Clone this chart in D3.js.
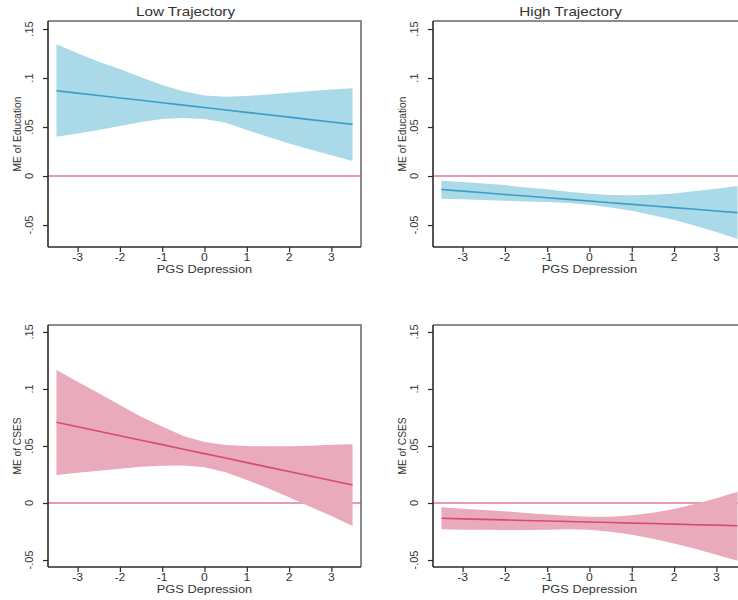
<!DOCTYPE html>
<html>
<head>
<meta charset="utf-8">
<script src="https://cdn.jsdelivr.net/npm/d3@7"></script>
<style>
  html, body { margin: 0; padding: 0; background: #fff; }
  svg { display: block; }
  text { font-family: "Liberation Sans", Arial, sans-serif; fill: #333; }
</style>
</head>
<body>
<svg id="chart" width="738" height="600"></svg>
<script>
// PGS depression values at which marginal effects are evaluated
const pgs = [-3.5, -3, -2.5, -2, -1.5, -1, -0.5, 0, 0.5, 1, 1.5, 2, 2.5, 3, 3.5];

// Marginal effect of education, low trajectory
const lowEduEst = [0.0871, 0.0846, 0.0822, 0.0797, 0.0773, 0.0748, 0.0724, 0.0699, 0.0674, 0.0650, 0.0625, 0.0601, 0.0576, 0.0551, 0.0527];
const lowEduLo  = [0.0401, 0.0435, 0.0469, 0.0510, 0.0551, 0.0582, 0.0592, 0.0582, 0.0544, 0.0469, 0.0401, 0.0333, 0.0272, 0.0211, 0.0153];
const lowEduHi  = [0.1344, 0.1252, 0.1167, 0.1092, 0.1007, 0.0929, 0.0864, 0.0823, 0.0810, 0.0816, 0.0833, 0.0850, 0.0867, 0.0884, 0.0895];

// Marginal effect of education, high trajectory
const highEduEst = [-0.0137, -0.0154, -0.0171, -0.0188, -0.0204, -0.0221, -0.0238, -0.0255, -0.0272, -0.0289, -0.0306, -0.0322, -0.0339, -0.0356, -0.0373];
const highEduLo  = [-0.0231, -0.0238, -0.0245, -0.0252, -0.0259, -0.0265, -0.0276, -0.0293, -0.0320, -0.0354, -0.0401, -0.0449, -0.0507, -0.0571, -0.0643];
const highEduHi  = [-0.0048, -0.0061, -0.0075, -0.0092, -0.0116, -0.0136, -0.0160, -0.0180, -0.0194, -0.0197, -0.0190, -0.0177, -0.0153, -0.0129, -0.0102];

// Marginal effect of CSES, low trajectory
const lowCsesEst = [0.0708, 0.0669, 0.0629, 0.0590, 0.0551, 0.0512, 0.0472, 0.0433, 0.0394, 0.0354, 0.0315, 0.0276, 0.0237, 0.0197, 0.0158];
const lowCsesLo  = [0.0246, 0.0266, 0.0284, 0.0301, 0.0319, 0.0327, 0.0330, 0.0313, 0.0269, 0.0202, 0.0129, 0.0050, -0.0032, -0.0114, -0.0202];
const lowCsesHi  = [0.1167, 0.1064, 0.0962, 0.0860, 0.0757, 0.0670, 0.0588, 0.0535, 0.0509, 0.0500, 0.0497, 0.0497, 0.0503, 0.0512, 0.0515];

// Marginal effect of CSES, high trajectory
const highCsesEst = [-0.0134, -0.0139, -0.0143, -0.0148, -0.0153, -0.0157, -0.0162, -0.0167, -0.0171, -0.0176, -0.0180, -0.0185, -0.0190, -0.0194, -0.0199];
const highCsesLo  = [-0.0231, -0.0234, -0.0234, -0.0237, -0.0237, -0.0234, -0.0231, -0.0234, -0.0251, -0.0278, -0.0313, -0.0354, -0.0401, -0.0453, -0.0506];
const highCsesHi  = [-0.0038, -0.0050, -0.0061, -0.0073, -0.0088, -0.0100, -0.0111, -0.0120, -0.0120, -0.0108, -0.0085, -0.0053, -0.0009, 0.0041, 0.0099];

// Axis ticks and labels
const xTicks = [-3, -2, -1, 0, 1, 2, 3];
const yTicks = [-0.05, 0, 0.05, 0.1, 0.15];
const yTickLabels = ["-.05", "0", ".05", ".1", ".15"];
const colTitles = ["Low Trajectory", "High Trajectory"];
const rowYTitles = ["ME of Education", "ME of CSES"];
const xTitle = "PGS Depression";

const blue = { fill: "#aad9e8", line: "#3a9dc7" };
const pink = { fill: "#e9aabb", line: "#d84a73" };

const panels = [
  { row: 0, col: 0, est: lowEduEst,  lo: lowEduLo,  hi: lowEduHi,  color: blue },
  { row: 0, col: 1, est: highEduEst, lo: highEduLo, hi: highEduHi, color: blue },
  { row: 1, col: 0, est: lowCsesEst,  lo: lowCsesLo,  hi: lowCsesHi,  color: pink },
  { row: 1, col: 1, est: highCsesEst, lo: highCsesLo, hi: highCsesHi, color: pink }
];

// Plot-region geometry per column and row
const colLeft = [48, 433];
const plotW = 313;
const rows = [
  { top: 21,  bottom: 247, yDomain: [-0.0724, 0.1582] },
  { top: 325, bottom: 567, yDomain: [-0.0561, 0.1561] }
];
const xDomain = [-3.7, 3.7];
const hStretch = 1.22; // horizontal text widening

const svg = d3.select("#chart");

function hText(g, x, y, str, size, anchor) {
  g.append("g")
    .attr("transform", `translate(${x},${y}) scale(${hStretch},1)`)
    .append("text")
    .attr("text-anchor", anchor || "middle")
    .style("font-size", size + "px")
    .text(str);
}

panels.forEach(p => {
  const r = rows[p.row];
  const left = colLeft[p.col], right = left + plotW;
  const x = d3.scaleLinear().domain(xDomain).range([left, right]);
  const y = d3.scaleLinear().domain(r.yDomain).range([r.bottom, r.top]);
  const g = svg.append("g");
  const data = pgs.map((v, i) => ({ x: v, est: p.est[i], lo: p.lo[i], hi: p.hi[i] }));

  // zero reference line
  g.append("line")
    .attr("x1", left).attr("x2", right)
    .attr("y1", y(0)).attr("y2", y(0))
    .attr("stroke", "#e27896").attr("stroke-width", 1.5);

  // confidence band
  g.append("path")
    .datum(data)
    .attr("fill", p.color.fill)
    .attr("d", d3.area().x(d => x(d.x)).y0(d => y(d.lo)).y1(d => y(d.hi)));

  // point estimate
  g.append("path")
    .datum(data)
    .attr("fill", "none")
    .attr("stroke", p.color.line)
    .attr("stroke-width", 1.6)
    .attr("d", d3.line().x(d => x(d.x)).y(d => y(d.est)));

  // top and right frame
  g.append("path")
    .attr("d", `M${left},${r.top}H${right}V${r.bottom}`)
    .attr("fill", "none").attr("stroke", "#666").attr("stroke-width", 1.5);

  // y axis
  const yAxis = g.append("g")
    .attr("transform", `translate(${left},0)`)
    .call(d3.axisLeft(y).tickValues(yTicks).tickSize(5).tickFormat(""));
  yAxis.select(".domain").attr("d", `M0,${r.top}V${r.bottom}`).attr("stroke", "#2a2a2a").attr("stroke-width", 1.6);
  yAxis.selectAll(".tick line").attr("stroke", "#2a2a2a").attr("stroke-width", 1.2);
  yTicks.forEach((t, i) => {
    g.append("text")
      .attr("transform", `translate(${left - 15},${y(t)}) rotate(-90)`)
      .attr("text-anchor", "middle")
      .style("font-size", "11px")
      .text(yTickLabels[i]);
  });

  // x axis
  const xAxis = g.append("g")
    .attr("transform", `translate(0,${r.bottom})`)
    .call(d3.axisBottom(x).tickValues(xTicks).tickSize(5).tickFormat(""));
  xAxis.select(".domain").attr("d", `M${left},0H${right}`).attr("stroke", "#2a2a2a").attr("stroke-width", 1.6);
  xAxis.selectAll(".tick line").attr("stroke", "#2a2a2a").attr("stroke-width", 1.2);
  xTicks.forEach(t => hText(g, x(t), r.bottom + 14, d3.format("d")(t).replace("−", "-"), 10));

  // axis titles
  hText(g, (left + right) / 2, r.bottom + 26, xTitle, 10.5);
  g.append("text")
    .attr("transform", `translate(${left - 27},${(r.top + r.bottom) / 2}) rotate(-90)`)
    .attr("text-anchor", "middle")
    .style("font-size", "10.2px")
    .text(rowYTitles[p.row]);

  // column title on the top row
  if (p.row === 0) {
    hText(g, left - 19 + plotW / 2, 16, colTitles[p.col], 12.5);
  }
});
</script>
</body>
</html>
